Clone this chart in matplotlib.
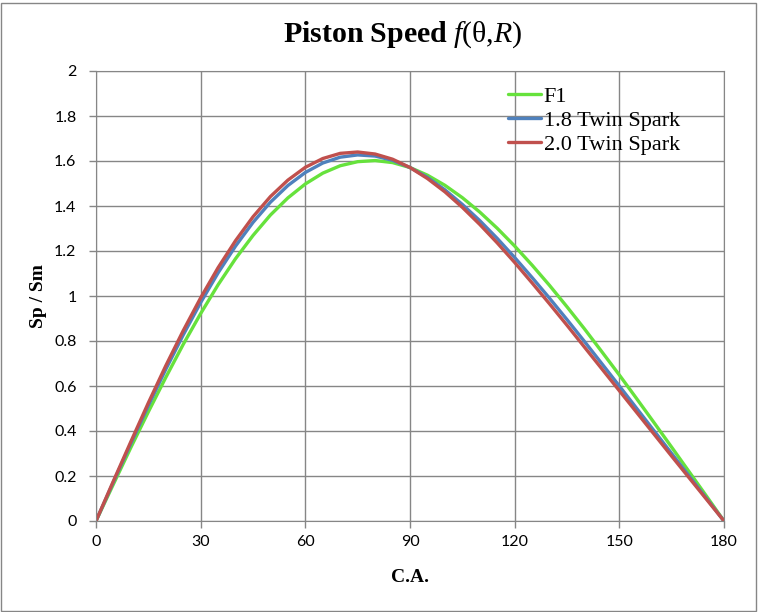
import matplotlib
matplotlib.use("Agg")
import matplotlib.pyplot as plt
from matplotlib.patches import Rectangle

# crank angle (deg) and Sp/Sm
crank_angle = list(range(0, 181, 5))
f1 = [0, 0.164, 0.327, 0.485, 0.638, 0.785, 0.922, 1.050, 1.166, 1.269, 1.360, 1.436, 1.498,
      1.546, 1.579, 1.597, 1.602, 1.593, 1.571, 1.537, 1.492, 1.437, 1.373, 1.301, 1.222,
      1.137, 1.047, 0.952, 0.854, 0.752, 0.649, 0.543, 0.436, 0.328, 0.219, 0.110, 0]
ts18 = [0, 0.174, 0.345, 0.513, 0.674, 0.827, 0.971, 1.103, 1.222, 1.327, 1.417, 1.491, 1.549,
        1.591, 1.617, 1.627, 1.622, 1.603, 1.571, 1.527, 1.472, 1.407, 1.335, 1.256, 1.171,
        1.082, 0.990, 0.895, 0.798, 0.699, 0.600, 0.500, 0.400, 0.300, 0.200, 0.100, 0]
ts20 = [0, 0.178, 0.353, 0.525, 0.690, 0.846, 0.992, 1.126, 1.246, 1.352, 1.442, 1.515, 1.572,
        1.611, 1.634, 1.640, 1.631, 1.608, 1.571, 1.522, 1.463, 1.394, 1.318, 1.236, 1.149,
        1.058, 0.965, 0.870, 0.773, 0.676, 0.579, 0.482, 0.385, 0.288, 0.192, 0.096, 0]

series_names = ["F1", "1.8 Twin Spark", "2.0 Twin Spark"]
colors = ["#66E23C", "#4F81BD", "#C0504D"]

x_ticks = [0, 30, 60, 90, 120, 150, 180]
y_ticks = [0, 0.2, 0.4, 0.6, 0.8, 1, 1.2, 1.4, 1.6, 1.8, 2]
y_tick_labels = ["0", "0.2", "0.4", "0.6", "0.8", "1", "1.2", "1.4", "1.6", "1.8", "2"]

plt.rcParams['mathtext.fontset'] = 'custom'
plt.rcParams['mathtext.rm'] = 'Liberation Serif'
plt.rcParams['mathtext.it'] = 'Liberation Serif:italic'
plt.rcParams['mathtext.bf'] = 'Liberation Serif:bold'

W, H = 758, 612
fig = plt.figure(figsize=(W / 100, H / 100), dpi=100)
fig.patches.append(Rectangle((1 / W, 1 / H), 1 - 3 / W, 1 - 4 / H, transform=fig.transFigure,
                             fill=False, edgecolor="#868686", linewidth=1))

ax = fig.add_axes([96 / W, 1 - 521 / H, (724 - 96) / W, (521 - 71) / H])

for ys, name, c in zip([f1, ts18, ts20], series_names, colors):
    ax.plot(crank_angle, ys, color=c, linewidth=2.4, label=name, solid_capstyle="round")

ax.set_xlim(0, 180)
ax.set_ylim(0, 2)
ax.set_xticks(x_ticks)
ax.set_yticks(y_ticks)
ax.set_yticklabels(y_tick_labels)
ax.grid(True, color="#868686", linewidth=1)
ax.set_axisbelow(True)
for s in ax.spines.values():
    s.set_color("#868686")
ax.tick_params(axis="both", color="#868686", length=5, width=1, labelsize=11.5,
               labelcolor="black")
ax.tick_params(axis="x", pad=5)
ax.tick_params(axis="y", pad=9)
for lab in ax.get_xticklabels() + ax.get_yticklabels():
    lab.set_family("Lato")

ax.set_xlabel("C.A.", fontfamily="Liberation Serif", fontweight="bold", fontsize=14)
ax.set_ylabel("Sp / Sm", fontfamily="Liberation Serif", fontweight="bold", fontsize=14)
ax.xaxis.set_label_coords(0.5, (521 - 578) / 450)
ax.yaxis.set_label_coords((38 - 96) / 628, 0.5)
ax.xaxis.label.set_va("center")
ax.yaxis.label.set_va("center")

fig.text(0.531, 1 - 35 / H, r"$\mathbf{Piston\ Speed}\ \mathit{f}\mathrm{(\theta{,}}\mathit{R}\mathrm{)}$",
         ha="center", va="center", fontsize=21.5)

ax.legend(loc="upper left", bbox_to_anchor=(497 / W, 1 - 75 / H), bbox_transform=fig.transFigure,
          frameon=False, prop={"family": "Liberation Serif", "size": 16},
          handlelength=1.5, handletextpad=0.1, labelspacing=0.16, borderpad=0)

fig.savefig("out.png", dpi=100)
